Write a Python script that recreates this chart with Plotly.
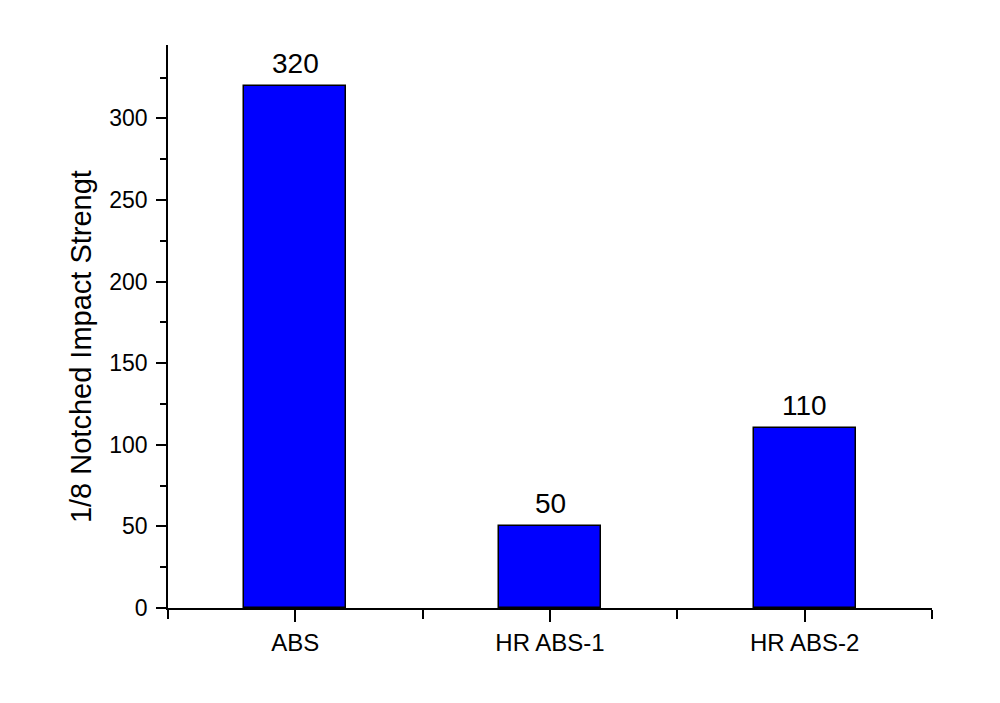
import plotly.graph_objects as go

categories = ['ABS', 'HR ABS-1', 'HR ABS-2']
strength = [320, 50, 110]
y_title = '1/8 Notched Impact Strengt'

positions = list(range(len(categories)))

fig = go.Figure()
fig.add_trace(go.Bar(
    x=positions, y=strength, width=0.4,
    marker=dict(color='#0000FF', line=dict(color='black', width=1.5)),
))

# value labels above the bars
for xpos, val in zip(positions, strength):
    fig.add_annotation(
        x=xpos, y=val, text=str(val), showarrow=False,
        xanchor='center', yanchor='bottom', yshift=5,
        font=dict(size=28, color='black'),
    )

# page body has an 8px margin, so the figure is 16px smaller than the window
fig.update_layout(
    width=984, height=687,
    margin=dict(l=160, r=60, t=37, b=87),
    paper_bgcolor='white', plot_bgcolor='white',
    font=dict(family='Liberation Sans, Arial', size=23, color='black'),
    showlegend=False,
    bargap=0,
)
fig.update_xaxes(
    range=[-0.5, 2.5], tickvals=positions, ticktext=categories,
    showline=True, linecolor='black', linewidth=1.5,
    ticks='outside', ticklen=12, tickwidth=1.5, tickcolor='black',
    minor=dict(tickvals=[-0.5, 0.5, 1.5, 2.5], ticks='outside', ticklen=9,
               tickwidth=1.5, tickcolor='black'),
    showgrid=False, zeroline=False, tickfont=dict(size=24),
)
fig.update_yaxes(
    range=[0, 345], tickvals=[0, 50, 100, 150, 200, 250, 300],
    showline=True, linecolor='black', linewidth=1.5,
    ticks='outside', ticklen=10, tickwidth=1.5, tickcolor='black',
    minor=dict(dtick=25, tick0=0, ticks='outside', ticklen=6,
               tickwidth=1.5, tickcolor='black', showgrid=False),
    showgrid=False, zeroline=False, tickfont=dict(size=23),
    ticklabelstandoff=4,
)
fig.add_annotation(
    text=y_title, textangle=-90, showarrow=False,
    xref='paper', yref='paper', x=-0.114, y=0.465,
    xanchor='center', yanchor='middle',
    font=dict(size=29),
)

fig.write_html('out.html')
